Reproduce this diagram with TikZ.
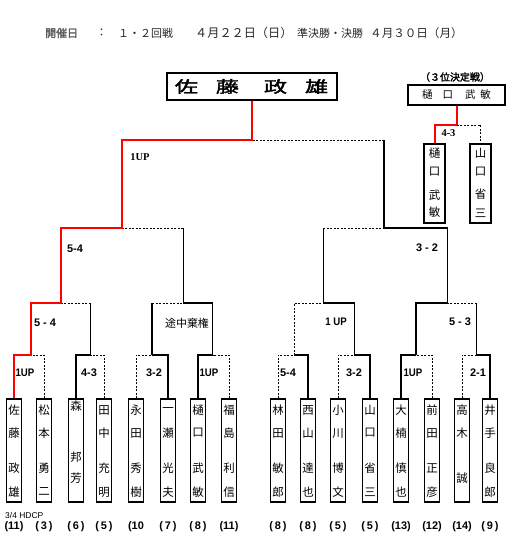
\documentclass[tikz,border=0pt]{standalone}
\usepackage{fontspec}
\usepackage{graphicx}
\newfontfamily\jp{Noto Sans CJK JP}
\newfontfamily\jpb[FakeBold=2]{Noto Sans CJK JP}
\newfontfamily\lsans{Liberation Sans}
\newfontfamily\lserif{Liberation Serif}
\newcommand\nup[1]{\scalebox{0.88}[1]{#1}}
\tikzset{
  ln/.style={line width=1.3bp, black},
  rd/.style={line width=2bp, red},
  dsh/.style={line width=0.9bp, black, dash pattern=on 2bp off 1.5bp},
  pbox/.style={draw, line width=1.3bp, minimum width=15bp, minimum height=103bp, inner sep=0pt},
  tbox/.style={draw, line width=1.1bp, minimum width=21bp, minimum height=79bp, inner sep=0pt},
  nm/.style={font=\jp\fontsize{11.5}{12}\selectfont, inner sep=0pt},
  hc/.style={font=\lsans\bfseries\fontsize{11}{12}\selectfont, inner sep=0pt},
  lab/.style={font=\lsans\bfseries\fontsize{11}{12}\selectfont, inner sep=0pt},
  slab/.style={font=\lserif\bfseries\fontsize{10.5}{12}\selectfont, inner sep=0pt},
  hd/.style={font=\jp\fontsize{11}{12}\selectfont, inner sep=0pt, anchor=west, text=black!85},
}
\newcommand\pname[7]{%
  \node[pbox] (#1) at (#2,450.5) {};
  \node[nm] (#1a) at (#2,410) {#3};
  \node[nm] (#1b) at (#2,433) {#4};
  \node[nm] (#1c) at (#2,468) {#5};
  \node[nm] (#1d) at (#2,492) {#6};
  \node[hc] (#1h) at (#2,527) {#7};
}
\begin{document}
\begin{tikzpicture}[x=1bp,y=-1bp, line join=miter]
\useasboundingbox (0,0) rectangle (510,554);

% header
\node[hd, font=\jpb\fontsize{11}{12}\selectfont, text=black!65] (h1) at (45,33) {開催日};
\node[hd] (h2) at (96,33) {：};
\node[hd] (h3) at (118,33) {１・２回戦};
\node[hd, font=\jp\fontsize{12.2}{12}\selectfont] (h4) at (195,33) {４月２２日（日）};
\node[hd] (h5) at (297,33) {準決勝・決勝};
\node[hd, font=\jp\fontsize{11.6}{12}\selectfont] (h6) at (370,33) {４月３０日（月）};

% champion
\node[draw, line width=2bp, minimum width=170bp, minimum height=27bp, inner sep=0pt] (win) at (251.5,86.5)
  {\scalebox{1.45}[1]{\jpb\fontsize{16}{16}\selectfont 佐\hspace{12.4bp}藤\hspace{17.2bp}政\hspace{12.4bp}雄}};

% third place
\node[font=\jpb\fontsize{10}{10}\selectfont, inner sep=0pt] (tt) at (455,77) {（３位決定戦）};
\node[draw, line width=1.1bp, minimum width=97bp, minimum height=20bp, inner sep=0pt] (tb) at (456.5,95)
  {\jp\fontsize{10.5}{10}\selectfont 樋\hspace{10bp}口\hspace{12bp}武\hspace{5bp}敏};
\node[tbox] (t1) at (434.5,183.5) {};
\node[nm] (t1a) at (434.5,153) {樋};
\node[nm] (t1b) at (434.5,172) {口};
\node[nm] (t1c) at (434.5,195) {武};
\node[nm] (t1d) at (434.5,212) {敏};
\node[tbox] (t2) at (480.5,183.5) {};
\node[nm] (t2a) at (480.5,153) {山};
\node[nm] (t2b) at (480.5,172) {口};
\node[nm] (t2c) at (480.5,194) {省};
\node[nm] (t2d) at (480.5,213) {三};
\coordinate (t) at (456.5,125);
\draw[rd] (tb.south) -- (t) -| (t1.north);
\draw[dsh] (t) -| (t2.north);
\node[slab] (l3) at (448.5,133) {4-3};

% players
\pname{p1}{14}{佐}{藤}{政}{雄}{(11)}
\pname{p2}{44}{松}{本}{勇}{二}{(\,3\,)}
\node[pbox] (p3) at (76,450.5) {};
\node[nm] (p3a) at (76,406) {森};
\node[nm] (p3c) at (76,457) {邦};
\node[nm] (p3d) at (76,478) {芳};
\node[hc] (p3h) at (76,527) {(\,6\,)};
\pname{p4}{104}{田}{中}{充}{明}{(\,5\,)}
\pname{p5}{136}{永}{田}{秀}{樹}{(10}
\pname{p6}{168}{一}{瀬}{光}{夫}{(\,7\,)}
\pname{p7}{198}{樋}{口}{武}{敏}{(\,8\,)}
\pname{p8}{229}{福}{島}{利}{信}{(11)}
\pname{p9}{278}{林}{田}{敏}{郎}{(\,8\,)}
\pname{p10}{308}{西}{山}{達}{也}{(\,8\,)}
\pname{p11}{338}{小}{川}{博}{文}{(\,5\,)}
\pname{p12}{370}{山}{口}{省}{三}{(\,5\,)}
\pname{p13}{401}{大}{楠}{慎}{也}{(13)}
\pname{p14}{432}{前}{田}{正}{彦}{(12)}
\node[pbox] (p15) at (462,450.5) {};
\node[nm] (p15a) at (462,410) {高};
\node[nm] (p15b) at (462,433) {木};
\node[nm] (p15d) at (462,478) {誠};
\node[hc] (p15h) at (462,527) {(14)};
\pname{p16}{490}{井}{手}{良}{郎}{(\,9\,)}
\node[font=\lsans\fontsize{8.5}{10}\selectfont, inner sep=0pt, anchor=west] (hdcp) at (5,515) {3/4 HDCP};

% junctions
\coordinate (m1) at (31,355);
\coordinate (m2) at (90.7,355);
\coordinate (m3) at (152,355);
\coordinate (m4) at (212.7,355);
\coordinate (m5) at (294.3,355);
\coordinate (m6) at (354.3,355);
\coordinate (m7) at (416,355);
\coordinate (m8) at (476.7,355);
\coordinate (q1) at (61,303);
\coordinate (q2) at (183.3,303);
\coordinate (q3) at (323.3,303);
\coordinate (q4) at (447.5,303);
\coordinate (s1) at (122,228);
\coordinate (s2) at (384,228);
\coordinate (f) at (251.5,140);

% round 1
\draw[dsh] (p2.north) |- (m1);
\draw[ln] (p3.north) |- (m2);
\draw[dsh] (p4.north) |- (m2);
\draw[dsh] (p5.north) |- (m3);
\draw[ln] (p6.north) |- (m3);
\draw[ln] (p7.north) |- (m4);
\draw[dsh] (p8.north) |- (m4);
\draw[dsh] (p9.north) |- (m5);
\draw[ln] (p10.north) |- (m5);
\draw[dsh] (p11.north) |- (m6);
\draw[ln] (p12.north) |- (m6);
\draw[ln] (p13.north) |- (m7);
\draw[dsh] (p14.north) |- (m7);
\draw[dsh] (p15.north) |- (m8);
\draw[ln] (p16.north) |- (m8);

% round 2
\draw[ln] (m2) -- (m2 |- q1);
\draw[dsh] (m2 |- q1) -- (q1);
\draw[ln] (m3) -- (m3 |- q2);
\draw[dsh] (m3 |- q2) -- (q2);
\draw[ln] (m4) |- (q2);
\draw[dsh] (m5) |- (q3);
\draw[ln] (m6) |- (q3);
\draw[ln] (m7) |- (q4);
\draw[ln] (m8) -- (m8 |- q4);
\draw[dsh] (m8 |- q4) -- (q4);

% semifinals
\draw[ln] (q2) -- (q2 |- s1);
\draw[dsh] (q2 |- s1) -- (s1);
\draw[ln] (q3) -- (q3 |- s2);
\draw[dsh] (q3 |- s2) -- (s2);
\draw[ln] (q4) |- (s2);

% final
\draw[ln] (s2) -- (s2 |- f);
\draw[dsh] (s2 |- f) -- (f);

% champion path
\draw[rd] (p1.north) |- (m1) |- (q1) |- (s1) |- (f) -- (win.south);

% score labels
\node[slab] (lf) at (140,157) {1UP};
\node[lab] (ls1) at (75,249) {5-4};
\node[lab] (ls2) at (427,248) {3 - 2};
\node[lab] (lq1) at (45,323) {5 - 4};
\node[nm, font=\jp\fontsize{11}{12}\selectfont] (lq2) at (187,323) {途中棄権};
\node[lab] (lq3) at (336,322) {\nup{1 UP}};
\node[lab] (lq4) at (460,322) {5 - 3};
\node[lab] (lm1) at (25,373) {\nup{1UP}};
\node[lab] (lm2) at (89,373) {4-3};
\node[lab] (lm3) at (154,373) {3-2};
\node[lab] (lm4) at (209,373) {\nup{1UP}};
\node[lab] (lm5) at (288,373) {5-4};
\node[lab] (lm6) at (354,373) {3-2};
\node[lab] (lm7) at (413,373) {\nup{1UP}};
\node[lab] (lm8) at (478,373) {2-1};
\end{tikzpicture}
\end{document}
